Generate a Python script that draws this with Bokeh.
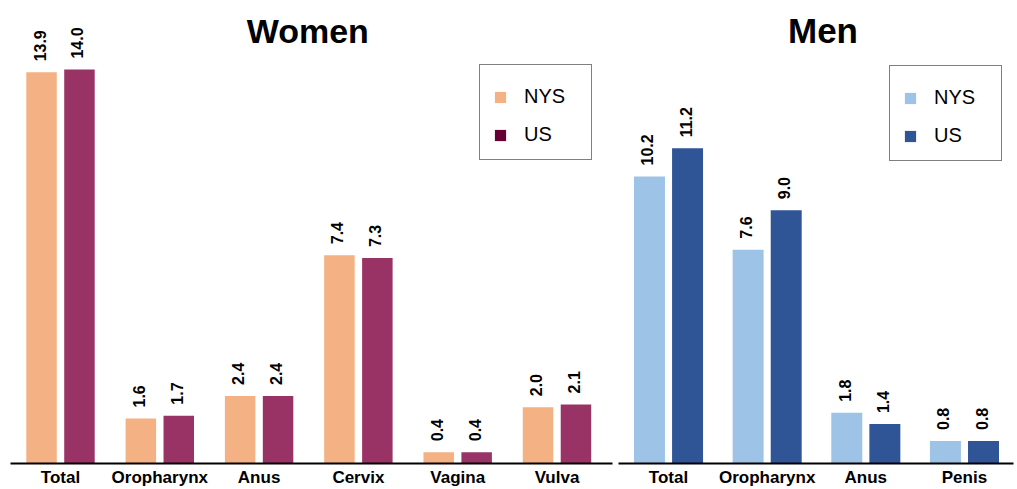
import numpy as np
from bokeh.plotting import figure
from bokeh.models import (ColumnDataSource, Range1d, LabelSet, Label, Legend,
                          LegendItem, FixedTicker)
from bokeh.core.properties import value
from bokeh.layouts import row
from bokeh.embed import file_html
from bokeh.resources import INLINE

# ---------------- data ----------------
women_categories = ["Total", "Oropharynx", "Anus", "Cervix", "Vagina", "Vulva"]
women_nys = [13.9, 1.6, 2.4, 7.4, 0.4, 2.0]
women_us = [14.0, 1.7, 2.4, 7.3, 0.4, 2.1]

men_categories = ["Total", "Oropharynx", "Anus", "Penis"]
men_nys = [10.2, 7.6, 1.8, 0.8]
men_us = [11.2, 9.0, 1.4, 0.8]

series_names = ["NYS", "US"]

# ---------------- style ----------------
FONT = "Liberation Sans"
PX_PER_UNIT = 28.14
FRAME_H = 455
FIG_H = 489
TOP = 8
Y_MAX = FRAME_H / PX_PER_UNIT


def panel(title, cats, nys, us, bar_colors, legend_colors, x_lo, x_hi,
          frame_w, border_l, border_r, bar_off, bar_w, title_x, title_size,
          legend_loc):
    n = len(cats)
    idx = np.arange(n)
    p = figure(width=border_l + frame_w + border_r, height=FIG_H,
               x_range=Range1d(x_lo, x_hi), y_range=Range1d(0, Y_MAX),
               output_backend="svg", toolbar_location=None,
               min_border_left=border_l, min_border_right=border_r,
               min_border_top=TOP, min_border_bottom=FIG_H - FRAME_H - TOP,
               y_axis_location=None, outline_line_color=None)
    p.grid.visible = False
    p.xaxis.ticker = FixedTicker(ticks=list(range(n)))
    p.xaxis.major_label_overrides = {i: c for i, c in enumerate(cats)}
    p.xaxis.axis_line_width = 2
    p.xaxis.axis_line_color = "black"
    p.xaxis.major_tick_line_color = None
    p.xaxis.minor_tick_line_color = None
    p.xaxis.major_tick_out = 0
    p.xaxis.major_tick_in = 0
    p.xaxis.major_label_standoff = 4
    p.xaxis.major_label_text_font = FONT
    p.xaxis.major_label_text_font_size = "17px"
    p.xaxis.major_label_text_font_style = "bold"
    p.xaxis.major_label_text_color = "black"

    src_nys = ColumnDataSource(dict(x=idx - bar_off, top=nys,
                                    label=[f"{v:.1f}" for v in nys]))
    src_us = ColumnDataSource(dict(x=idx + bar_off, top=us,
                                   label=[f"{v:.1f}" for v in us]))
    p.vbar(x="x", top="top", bottom=0, width=bar_w, source=src_nys,
           fill_color=bar_colors[0], line_color=None)
    p.vbar(x="x", top="top", bottom=0, width=bar_w, source=src_us,
           fill_color=bar_colors[1], line_color=None)

    for src in (src_nys, src_us):
        p.add_layout(LabelSet(x="x", y="top", text="label", source=src,
                              angle=np.pi / 2, text_align="left",
                              text_baseline="middle", y_offset=11, x_offset=-2,
                              text_font=value(FONT), text_font_size="16px",
                              text_font_style="bold", text_color="black"))

    p.add_layout(Label(x=title_x, y=(FRAME_H - 22) / PX_PER_UNIT, text=title,
                       text_align="center", text_baseline="alphabetic",
                       text_font=FONT, text_font_size=title_size,
                       text_font_style="bold", text_color="black"))

    r1 = p.vbar(x=[0], top=[0], bottom=[0], width=0.3,
                fill_color=legend_colors[0], line_color=None)
    r2 = p.vbar(x=[0], top=[0], bottom=[0], width=0.3,
                fill_color=legend_colors[1], line_color=None)
    legend = Legend(items=[LegendItem(label=series_names[0], renderers=[r1]),
                           LegendItem(label=series_names[1], renderers=[r2])],
                    location=legend_loc, glyph_width=14, glyph_height=14,
                    label_standoff=17, label_width=54, label_text_font=FONT,
                    label_text_font_size="20px", label_text_color="black",
                    padding=13, spacing=15,
                    margin=0, border_line_color="black",
                    border_line_width=1.5, background_fill_color="white",
                    background_fill_alpha=1, title=" ",
                    title_text_font_size="1px", title_standoff=6)
    p.add_layout(legend)
    return p


p_women = panel("Women", women_categories, women_nys, women_us,
                ["#F4B183", "#993366"], ["#F4B183", "#660033"],
                -0.5035, 5.559, 602, 10, 3, 0.191, 0.307, 2.49, "34px",
                (469, 303))
p_men = panel("Men", men_categories, men_nys, men_us,
              ["#9DC3E6", "#2F5597"], ["#9DC3E6", "#2F5597"],
              -0.507, 3.497, 395, 3, 4, 0.193, 0.314, 1.566, "35px",
              (271, 302))

layout = row(p_women, p_men)
open("out.html", "w").write(file_html(layout, INLINE))
